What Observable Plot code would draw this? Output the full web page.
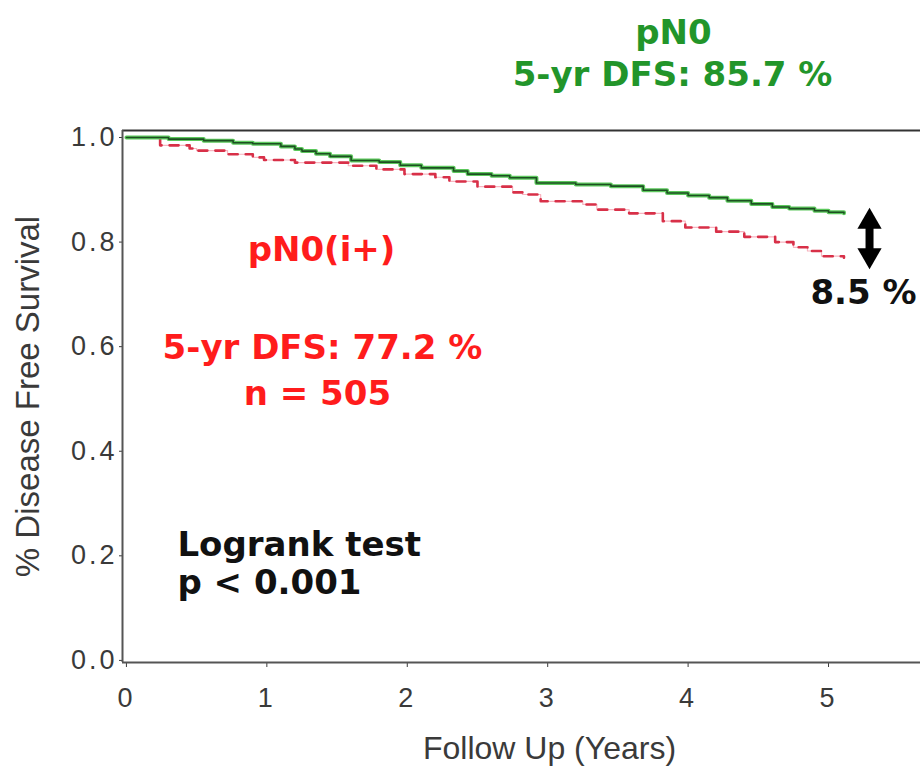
<!DOCTYPE html>
<html><head><meta charset="utf-8">
<script src="https://cdn.jsdelivr.net/npm/d3@7"></script>
<script src="https://cdn.jsdelivr.net/npm/@observablehq/plot@0.6"></script>
<style>
html,body{margin:0;padding:0;background:#fff;}
#chart svg{display:block;}
g[aria-label="y-axis tick label"] text, g[aria-label="x-axis tick label"] text{letter-spacing:3px;}
</style>
</head><body><div id="chart"></div>
<script>
// pN0 (green, solid) Kaplan-Meier steps: follow-up years and DFS
const pN0Time = [0,0.3,0.55,0.76,0.9,1.1,1.2,1.25,1.35,1.45,1.6,1.8,1.95,2.1,2.33,2.43,2.6,2.73,2.92,3.2,3.45,3.68,3.85,4.0,4.15,4.28,4.45,4.6,4.72,4.9,5.0,5.11];
const pN0Surv = [1.0,0.997,0.994,0.99,0.988,0.983,0.978,0.974,0.969,0.964,0.956,0.953,0.947,0.942,0.936,0.93,0.927,0.923,0.913,0.91,0.907,0.899,0.894,0.889,0.885,0.879,0.873,0.867,0.864,0.86,0.857,0.855];
// pN0(i+) (red, dashed)
const pN0iTime = [0,0.24,0.45,0.5,0.72,0.9,0.98,1.2,1.58,1.78,1.98,2.2,2.3,2.5,2.75,2.82,2.95,3.25,3.35,3.58,3.82,3.98,4.2,4.4,4.62,4.75,4.85,4.95,5.11];
const pN0iSurv = [1.0,0.985,0.979,0.975,0.968,0.962,0.957,0.952,0.946,0.939,0.93,0.924,0.916,0.906,0.895,0.891,0.878,0.872,0.862,0.855,0.84,0.828,0.82,0.81,0.8,0.79,0.783,0.773,0.77];

const xTicks = [0,1,2,3,4,5];
const yTicks = [0,0.2,0.4,0.6,0.8,1.0];
const xTitle = "Follow Up (Years)";
const yTitle = "% Disease Free Survival";
const greenLabels = ["pN0", "5-yr DFS: 85.7 %"];
const redLabels = ["pN0(i+)", "5-yr DFS: 77.2 %", "n = 505"];
const testLabels = ["Logrank test", "p < 0.001"];
const diffLabel = "8.5 %";

const green = pN0Time.map((t, i) => ({t, s: pN0Surv[i]}));
const red = pN0iTime.map((t, i) => ({t, s: pN0iSurv[i]}));

const xDomain = [-0.028, 5.655];
const yDomain = [-0.004, 1.0134];
const GREEN = "#22952a", RED = "#ff1c1c";
const bold = {fontFamily: "'DejaVu Sans', sans-serif", fontWeight: "bold", fontSize: 34};

const chart = Plot.plot({
  width: 920, height: 766,
  marginLeft: 122, marginRight: 0, marginTop: 130, marginBottom: 104,
  style: {fontFamily: "'Liberation Sans', Arial, sans-serif", color: "#3a3a3a", background: "#fff", overflow: "visible"},
  x: {domain: xDomain},
  y: {domain: yDomain},
  marks: [
    Plot.axisY({ticks: yTicks, tickFormat: d3.format(".1f"), tickSize: 3, tickPadding: 2, fontSize: 27, label: null}),
    Plot.axisX({ticks: xTicks, tickFormat: d3.format("d"), tickSize: 5, tickPadding: 20, fontSize: 27, label: null}),
    Plot.ruleY([yDomain[1]], {stroke: "#333", strokeWidth: 2}),
    Plot.ruleY([yDomain[0]], {stroke: "#555", strokeWidth: 2}),
    Plot.ruleX([xDomain[0]], {stroke: "#555", strokeWidth: 2}),
    Plot.line(red, {x: "t", y: "s", curve: "step-after", stroke: "#f8b4c0", strokeWidth: 1.2}),
    Plot.line(red, {x: "t", y: "s", curve: "step-after", stroke: "#d83048", strokeWidth: 2.6, strokeDasharray: "9,8"}),
    Plot.line(green, {x: "t", y: "s", curve: "step-after", stroke: "#5cc85c", strokeWidth: 4}),
    Plot.line(green, {x: "t", y: "s", curve: "step-after", stroke: "#1d4f22", strokeWidth: 1.6}),
    // titles
    Plot.text([yTitle], {text: d => d, frameAnchor: "left", dx: -94, rotate: -90, textAnchor: "middle", lineAnchor: "middle", fontSize: 33, fill: "#3a3a3a"}),
    Plot.text([xTitle], {text: d => d, frameAnchor: "bottom", dx: 28, dy: 86, textAnchor: "middle", lineAnchor: "middle", fontSize: 32, fill: "#3a3a3a"}),
    // green annotations
    Plot.text([greenLabels[0]], {text: d => d, x: 3.896, y: 1.199, fill: GREEN, ...bold}),
    Plot.text([greenLabels[1]], {text: d => d, x: 3.889, y: 1.119, fill: GREEN, ...bold}),
    // red annotations
    Plot.text([redLabels[0]], {text: d => d, x: 1.389, y: 0.784, fill: RED, ...bold}),
    Plot.text([redLabels[1]], {text: d => d, x: 1.396, y: 0.597, fill: RED, ...bold}),
    Plot.text([redLabels[2]], {text: d => d, x: 1.36, y: 0.509, fill: RED, ...bold}),
    // logrank
    Plot.text([testLabels[0]], {text: d => d, x: 0.363, y: 0.22, textAnchor: "start", fill: "#111", ...bold}),
    Plot.text([testLabels[1]], {text: d => d, x: 0.363, y: 0.147, textAnchor: "start", fill: "#111", ...bold}),
    // difference arrow
    Plot.link([0], {x1: 5.292, x2: 5.292, y1: 0.839, y2: 0.775, stroke: "#000", strokeWidth: 8}),
    Plot.dot([0], {x: 5.292, y: 0.839, symbol: "triangle", r: 9, fill: "#000", stroke: "none"}),
    Plot.dot([0], {x: 5.292, y: 0.775, symbol: "triangle", r: 9, fill: "#000", stroke: "none", rotate: 180}),
    Plot.text([diffLabel], {text: d => d, x: 5.249, y: 0.702, fill: "#111", ...bold})
  ]
});
document.getElementById("chart").append(chart);
</script>
</body></html>
